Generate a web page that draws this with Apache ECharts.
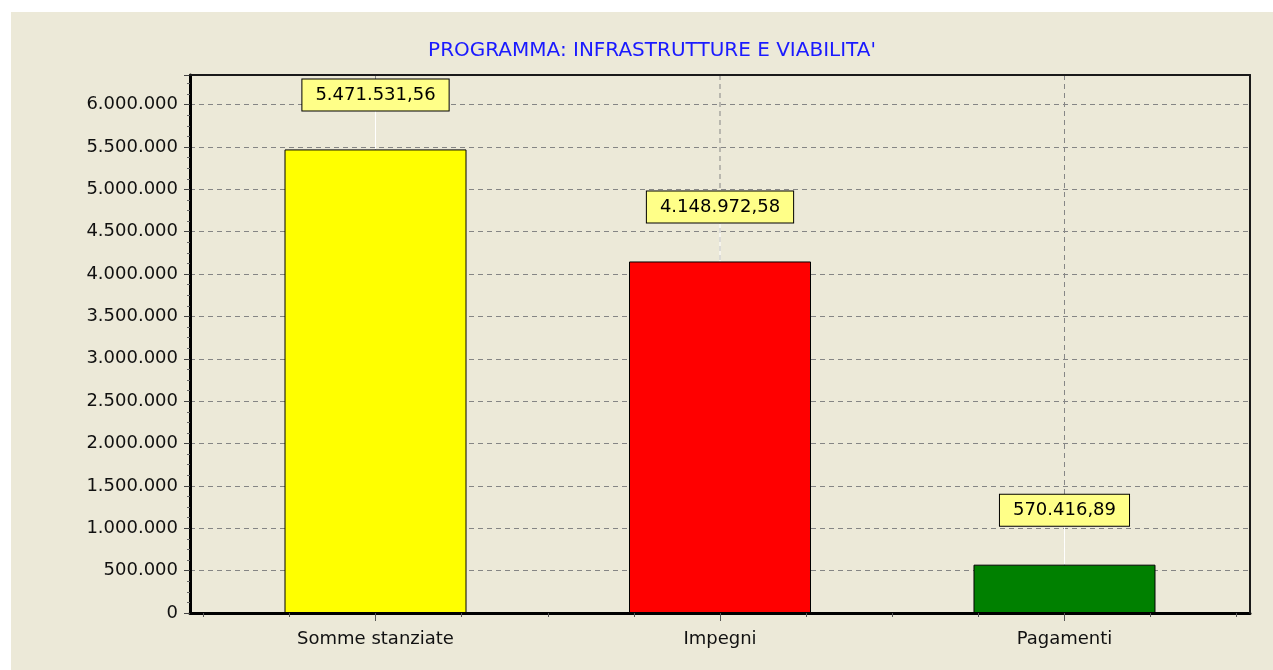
<!DOCTYPE html>
<html>
<head>
<meta charset="utf-8">
<script src="https://cdn.jsdelivr.net/npm/echarts@6/dist/echarts.min.js"></script>
<style>
html,body{margin:0;padding:0;background:#ffffff;}
#chart{width:1273px;height:670px;}
</style>
</head>
<body>
<div id="chart"></div>
<script>
const titleText = "PROGRAMMA: INFRASTRUTTURE E VIABILITA'";
const categories = ["Somme stanziate", "Impegni", "Pagamenti"];
const values = [5471531.56, 4148972.58, 570416.89];
const barColors = ["#ffff00", "#ff0000", "#008000"];
const yMin = 0, yMax = 6350000, yStep = 500000;

function fmtIt(v, dec) {
  const parts = v.toFixed(dec).split('.');
  const intPart = parts[0].replace(/\B(?=(\d{3})+(?!\d))/g, '.');
  return dec ? intPart + ',' + parts[1] : intPart;
}

const xTickValues = [];
for (let t = -0.5; t <= 2.5001; t += 0.25) xTickValues.push(+t.toFixed(2));
const catIdx = categories.map((c, i) => i);

const FONT = "DejaVu Sans";
const LABEL_GAP = 39;
const X_MIN = -0.5385, X_MAX = 2.5385;

const chart = echarts.init(document.getElementById('chart'), null, {renderer: 'canvas'});
chart.setOption({
  backgroundColor: '#ffffff',
  animation: false,
  graphic: [{
    type: 'rect', z: -10, silent: true,
    shape: {x: 11, y: 12, width: 1262, height: 658},
    style: {fill: '#ece9d8'}
  }],
  title: {
    text: titleText, left: 647, top: 36, textAlign: 'center',
    textStyle: {color: '#1a1aff', fontFamily: FONT, fontSize: 20, fontWeight: 'normal'}
  },
  grid: {
    left: 190, top: 75, width: 1060, height: 538, show: false
  },
  xAxis: [{
    type: 'value', min: X_MIN, max: X_MAX,
    axisLine: {show: true, onZero: false, lineStyle: {color: '#000', width: 3}},
    axisTick: {show: true, customValues: xTickValues, length: 4, lineStyle: {color: '#555'}},
    axisLabel: {
      show: true, customValues: catIdx, margin: 17,
      color: '#111', fontFamily: FONT, fontSize: 18,
      formatter: v => categories[Math.round(v)]
    },
    splitLine: {show: false}
  }, {
    type: 'value', min: X_MIN, max: X_MAX, position: 'bottom',
    axisLine: {show: false, onZero: false},
    axisTick: {show: true, customValues: catIdx, length: 8, lineStyle: {color: '#555'}},
    axisLabel: {show: false},
    splitLine: {show: false}
  }, {
    type: 'value', min: X_MIN, max: X_MAX, position: 'top', z: 10,
    axisLine: {show: true, onZero: false, lineStyle: {color: '#1a1a1a', width: 2}},
    axisTick: {show: false}, axisLabel: {show: false}, splitLine: {show: false}
  }],
  yAxis: [{
    type: 'value', min: yMin, max: yMax, interval: yStep,
    axisLine: {show: true, onZero: false, lineStyle: {color: '#000', width: 3}},
    axisTick: {show: true, length: 6, lineStyle: {color: '#444'}},
    minorTick: {show: true, splitNumber: 4, length: 3, lineStyle: {color: '#666'}},
    axisLabel: {
      margin: 12, color: '#111', fontFamily: FONT, fontSize: 18,
      showMaxLabel: false,
      formatter: v => fmtIt(v, 0)
    },
    splitLine: {show: true, lineStyle: {color: '#858585', type: [5, 4], width: 1}}
  }, {
    type: 'value', min: yMin, max: yMax, position: 'right', z: 10,
    axisLine: {show: true, onZero: false, lineStyle: {color: '#1a1a1a', width: 2}},
    axisTick: {show: false}, axisLabel: {show: false}, splitLine: {show: false}
  }],
  series: [{
    type: 'custom', z: 1, silent: true,
    data: values.map((v, i) => [i, v]),
    renderItem: function (params, api) {
      const cs = params.coordSys;
      const p = api.coord([api.value(0), api.value(1)]);
      return {
        type: 'group',
        children: [{
          type: 'line',
          shape: {x1: p[0], y1: cs.y, x2: p[0], y2: cs.y + cs.height},
          style: {stroke: '#858585', lineWidth: 1, lineDash: [5, 4]}
        }, {
          type: 'line',
          shape: {x1: p[0], y1: p[1], x2: p[0], y2: p[1] - LABEL_GAP},
          style: {stroke: '#ffffff', lineWidth: 1}
        }]
      };
    }
  }, {
    type: 'bar', z: 3,
    barWidth: 182,
    data: values.map((v, i) => ({
      value: [i, v],
      itemStyle: {color: barColors[i], borderColor: '#000', borderWidth: 1}
    })),
    label: {
      show: true, position: 'top', distance: LABEL_GAP,
      formatter: p => fmtIt(p.value[1], 2),
      color: '#000', fontFamily: FONT, fontSize: 18, lineHeight: 20,
      backgroundColor: '#ffff88', borderColor: '#000', borderWidth: 1,
      padding: [6, 13, 5, 13]
    }
  }]
});
</script>
</body>
</html>
